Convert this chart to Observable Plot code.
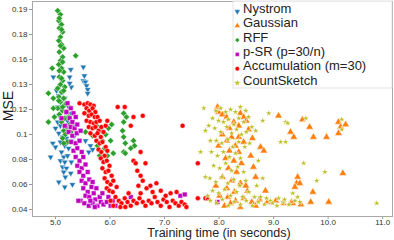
<!DOCTYPE html>
<html><head><meta charset="utf-8">
<script src="https://cdn.jsdelivr.net/npm/d3@7"></script>
<script src="https://cdn.jsdelivr.net/npm/@observablehq/plot@0.6"></script>
<style>
body{margin:0;background:#fff;}
</style></head><body><div id="chart"></div>
<script>
const seriesNames = ["Nystrom","Gaussian","RFF","p-SR (p=30/n)","Accumulation (m=30)","CountSketch"];
const seriesColors = ["#1f77b4","#ff7f0e","#2ca02c","#bf00bf","#ff0000","#bcbd22"];
const xTicks = [5,6,7,8,9,10,11];
const yTicks = [0.04,0.06,0.08,0.10,0.12,0.14,0.16,0.18,0.20];
const yTickLabels = ["0.04","0.06","0.08","0.1","0.12","0.13","0.16","0.18","0.19"];
const xLabel = "Training time (in seconds)";
const yLabel = "MSE";

// [training time, MSE]
const nystrom = [[5.28,.152],[5.26,.146],[5.29,.138],[5.26,.141],[5.51,.154],[5.51,.143],[5.55,.142],[5.57,.139],[5.59,.136],[5.59,.133],[5.53,.147],
[4.96,.146],[5.02,.135],[5.06,.131],[5.09,.127],[5.13,.134],[5.17,.129],[5.20,.125],[5.04,.122],[5.11,.120],[5.18,.118],[5.24,.122],[5.28,.117],[5.07,.115],[5.15,.113],[5.22,.111],[5.09,.107],[5.17,.105],[5.24,.103],[5.06,.101],[5.13,.098],[5.20,.097],[5.28,.095],[5.09,.094],[5.17,.091],[5.24,.089],[4.95,.093],[4.91,.082],[5.00,.090],[5.11,.086],[5.15,.082],[5.22,.083],[5.09,.079],[5.17,.078],[5.29,.078],[5.13,.074],[5.20,.073],[5.15,.070],[5.28,.069],[5.18,.066],[5.06,.062],[5.17,.058],[5.31,.060],[5.55,.095],[5.61,.086],[5.64,.091],[5.68,.088],[5.04,.110],[5.00,.105],[5.33,.107],[5.35,.099]];

const gaussian = [[7.97,.122],[7.99,.118],[8.06,.116],[8.14,.114],[8.39,.117],[8.45,.114],[9.09,.115],[8.27,.110],[8.36,.107],[8.19,.105],[8.54,.104],[8.45,.094],[8.06,.100],[8.14,.095],[8.23,.098],[8.30,.091],[8.19,.087],[8.36,.086],[8.12,.081],[8.27,.079],[8.41,.077],[8.76,.090],[8.82,.087],[8.63,.074],[8.67,.066],[8.85,.055],[8.52,.055],[8.17,.073],[8.32,.070],[8.06,.066],[8.23,.063],[8.39,.061],[8.14,.057],[8.28,.054],[8.01,.051],[8.16,.050],[8.30,.047],[8.45,.049],[8.60,.046],[8.74,.048],[8.89,.046],[9.04,.047],[9.18,.045],[9.33,.046],[9.50,.044],[9.35,.045],[9.68,.046],[10.01,.046],[9.72,.054],[9.44,.066],[9.42,.061],[9.48,.061],[9.39,.058],[10.27,.069],[9.53,.112],[9.66,.106],[9.73,.098],[9.97,.098],[10.19,.110],[10.23,.106],[10.32,.108],[10.19,.101],[9.31,.102],[9.37,.098],[8.10,.043],[8.39,.042],[8.67,.043],[8.21,.045],[8.49,.059],[8.58,.083],[7.99,.091],[7.94,.059],[8.50,.111],[8.61,.097],[8.36,.098]];

const rff = [[5.04,.199],[5.09,.196],[5.06,.191],[5.11,.188],[5.07,.185],[5.13,.182],[5.09,.178],[5.06,.175],[5.11,.172],[5.15,.169],[5.07,.166],[5.13,.162],[5.09,.159],[5.06,.156],[5.11,.153],[5.15,.150],[5.07,.146],[5.13,.143],[5.09,.140],[5.04,.137],[5.17,.138],[5.11,.134],[5.06,.130],[5.15,.129],[5.09,.126],[5.18,.124],[5.04,.121],[5.13,.119],[5.20,.118],[5.07,.116],[5.17,.113],[5.24,.114],[5.11,.110],[5.20,.106],[5.15,.103],[5.26,.108],[5.18,.100],[5.13,.097],[5.28,.102],[5.22,.094],[5.15,.093],
[5.07,.193],[5.11,.184],[5.09,.171],[5.13,.158],[5.07,.151],[5.11,.145],[5.15,.135],[5.06,.127],[5.13,.122],
[5.37,.163],[4.94,.153],[4.87,.133],[4.96,.129],[4.96,.121],[4.87,.110],[4.98,.114],[5.55,.102],
[6.25,.117],[6.30,.114],[6.25,.110],[6.23,.103],[6.25,.098],[6.28,.093],[6.25,.086],[6.43,.095],[6.45,.091],[6.38,.089],[6.06,.085],[6.28,.085],[6.03,.108],[5.97,.105],[5.92,.100],[5.83,.103],[5.86,.095],[5.77,.091],[5.90,.089],[5.95,.083],[5.81,.083],[6.01,.095],[5.75,.107],[5.68,.099]];

const psr = [[5.22,.125],[5.28,.121],[5.33,.117],[5.11,.113],[5.20,.118],[5.26,.113],[5.31,.110],[5.37,.114],[5.17,.107],[5.28,.106],[5.35,.105],[5.40,.108],[5.24,.102],[5.31,.099],[5.39,.101],[5.46,.103],[5.29,.094],[5.37,.093],[5.44,.095],[5.33,.087],[5.40,.089],[5.48,.086],[5.37,.082],[5.44,.079],[5.51,.082],[5.40,.075],[5.48,.073],[5.55,.076],[5.44,.070],[5.51,.067],[5.59,.070],[5.48,.063],[5.55,.061],[5.62,.064],[5.51,.057],[5.59,.054],[5.66,.058],[5.55,.051],[5.62,.050],[5.70,.053],[5.73,.048],[5.46,.047],[5.42,.047],[5.53,.045],[5.61,.043],[5.68,.045],[5.77,.043],[5.83,.046],[5.88,.044],[5.94,.046],[6.01,.043],[5.81,.050],[5.75,.057],[5.68,.062],[5.86,.053],[6.05,.047],[5.97,.050],[5.72,.042],[5.64,.047],[6.10,.043],[6.38,.050],[7.29,.051],[7.37,.052],[7.97,.046]];

const accumulation = [[5.44,.125],[5.53,.124],[5.59,.125],[5.64,.124],[5.70,.123],[5.57,.121],[5.62,.119],[5.68,.121],[5.73,.118],[5.53,.117],[5.61,.115],[5.66,.116],[5.72,.114],[5.77,.114],[5.57,.111],[5.64,.110],[5.70,.109],[5.75,.110],[5.81,.111],[5.61,.106],[5.68,.105],[5.73,.106],[5.79,.103],[5.84,.106],[5.64,.101],[5.72,.099],[5.77,.101],[5.83,.098],[5.88,.102],[5.92,.107],[5.95,.111],[6.14,.122],[6.27,.122],[6.43,.114],[6.60,.115],[6.38,.107],
[5.75,.095],[5.81,.093],[5.86,.094],[5.92,.090],[5.79,.088],[5.84,.086],[5.90,.083],[5.95,.087],[5.83,.081],[5.88,.078],[5.94,.079],[5.99,.075],[5.86,.073],[5.92,.070],[5.97,.071],[6.03,.067],[5.90,.065],[5.95,.062],[6.01,.060],[6.06,.063],[6.12,.058],[5.94,.057],[5.99,.055],[6.05,.054],
[6.43,.079],[6.47,.077],[6.50,.071],[6.56,.067],[6.65,.077],[6.56,.086],[6.52,.059],[6.60,.063],[6.67,.057],[6.74,.059],[6.85,.061],
[6.10,.050],[6.16,.047],[6.21,.045],[6.27,.049],[6.32,.046],[6.38,.043],[6.43,.047],[6.49,.045],[6.54,.049],[6.60,.046],[6.65,.043],[6.71,.047],[6.76,.045],[6.82,.050],[6.87,.046],[6.93,.043],[6.98,.048],[7.04,.046],[7.09,.042],[7.15,.047],[7.20,.045],[7.26,.043],[7.31,.046],[7.37,.044],[7.40,.042],[6.19,.042],[6.34,.053],[6.56,.053],[6.78,.054],[7.02,.051],[6.01,.047],[6.06,.043],[6.28,.042],[6.93,.055],[7.11,.053],
[7.33,.107],[7.61,.077],[7.61,.049],[7.75,.049],[7.79,.049],[7.22,.054]];

const countSketch = [[7.72,.121],[7.75,.103],[7.66,.086],[7.75,.066],[8.91,.117],[9.22,.110],[9.26,.109],[9.13,.094],[9.22,.094],[9.59,.113],[10.25,.112],[10.25,.104],[9.55,.077],[9.94,.070],[9.79,.063],[9.35,.053],[9.44,.050],[9.48,.046],[10.89,.045],
[7.94,.119],[8.03,.121],[8.12,.118],[8.21,.120],[8.30,.118],[8.39,.122],[8.49,.119],[7.88,.113],[7.99,.111],[8.08,.110],[8.17,.112],[8.27,.108],[8.36,.113],[8.45,.110],[8.54,.114],[7.92,.105],[8.03,.102],[8.14,.106],[8.23,.101],[8.32,.104],[8.41,.100],[8.50,.102],[8.60,.106],[7.95,.095],[8.05,.093],[8.16,.096],[8.25,.090],[8.36,.094],[8.47,.090],[8.56,.093],[7.86,.086],[7.97,.083],[8.08,.086],[8.19,.082],[8.30,.085],[8.39,.081],[7.90,.075],[8.01,.073],[8.12,.077],[8.23,.071],[8.34,.074],[8.45,.070],[7.83,.065],[7.94,.062],[8.05,.066],[8.16,.061],[8.27,.064],[8.38,.059],[8.49,.063],[7.88,.055],[7.99,.053],[8.10,.056],[8.21,.051],[8.32,.054],[8.43,.050],[8.54,.054],[8.65,.050],[7.84,.047],[7.95,.045],[8.06,.048],[8.17,.043],[8.28,.046],[8.39,.044],[8.50,.047],[8.61,.043],[8.72,.046],[8.83,.044],[8.94,.047],[9.06,.043],[9.17,.046],[9.28,.044],[9.39,.047],[8.76,.050],[8.87,.049],[8.98,.045],[9.09,.049],[9.20,.048],[8.69,.059],[8.80,.065],[8.72,.079],[8.67,.103],[8.80,.111],[7.84,.095],[7.81,.107],[7.79,.051]];

const seriesData = [nystrom, gaussian, rff, psr, accumulation, countSketch];

const triangleDown = {
  draw(context, size) {
    const y = -Math.sqrt(size / (Math.sqrt(3) * 3));
    context.moveTo(0, -y * 2);
    context.lineTo(-Math.sqrt(3) * y, y);
    context.lineTo(Math.sqrt(3) * y, y);
    context.closePath();
  }
};
const seriesSymbols = [triangleDown, "triangle", "diamond2", "square", "circle", "star"];
const d3Symbols = [triangleDown, d3.symbolTriangle, d3.symbolDiamond2, d3.symbolSquare, d3.symbolCircle, d3.symbolStar];
const seriesR = [2.35, 2.8, 2.9, 2.7, 2.5, 2.1];

const W = 394, H = 240, ML = 32, MR = 2, MT = 1, MB = 24;

const dotMarks = seriesData.map((arr, i) => Plot.dot(arr.map(([t, m]) => ({series: seriesNames[i], time: t, mse: m})), {
  x: "time", y: "mse", symbol: () => seriesSymbols[i], fill: seriesColors[i], r: seriesR[i],
  stroke: "white", strokeWidth: 0.5
}));

const chart = Plot.plot({
  width: W, height: H,
  marginLeft: ML, marginRight: MR, marginTop: MT, marginBottom: MB,
  style: {fontFamily: "'Liberation Sans', Arial, sans-serif", background: "white"},
  x: {domain: [4.578, 11.18]},
  y: {domain: [0.0344, 0.2064]},
  symbol: {type: "identity"},
  marks: [
    Plot.axisX({ticks: xTicks, tickFormat: d => d.toFixed(1), tickSize: 3, tickPadding: 0, fontSize: 8, stroke: "#999", fill: "#333", label: null}),
    Plot.axisY({ticks: yTicks, tickFormat: (d, i) => yTickLabels[i], tickSize: 3, tickPadding: 2, fontSize: 8, stroke: "#999", fill: "#333", label: null}),
    ...dotMarks,
    Plot.frame({stroke: "#a8a8a8"})
  ]
});
document.getElementById("chart").appendChild(chart);

const svg = d3.select(chart);
svg.append("text").attr("x", 219).attr("y", 237).attr("text-anchor", "middle")
  .attr("font-size", 12.5).attr("fill", "#222").text(xLabel);
svg.append("text").attr("transform", "translate(13,106) rotate(-90)").attr("text-anchor", "middle")
  .attr("font-size", 14).attr("fill", "#222").text(yLabel);

const lg = svg.append("g").attr("text-anchor", "start");
lg.append("rect").attr("x", 233).attr("y", 1).attr("width", 159).attr("height", 87)
  .attr("fill", "white").attr("fill-opacity", 0.85).attr("stroke", "#ddd").attr("stroke-width", 0.8);
seriesNames.forEach((name, i) => {
  const yb = 13 + i * 14.3;
  lg.append("path").attr("d", d3.symbol(d3Symbols[i], Math.PI * 2.2 * 2.2)())
    .attr("transform", `translate(237.3,${yb - 1.5})`).attr("fill", seriesColors[i]).attr("stroke", "white").attr("stroke-width", 0.4);
  lg.append("text").attr("x", 243).attr("y", yb).attr("font-size", 13).attr("fill", "#222").text(name);
});
</script></body></html>
